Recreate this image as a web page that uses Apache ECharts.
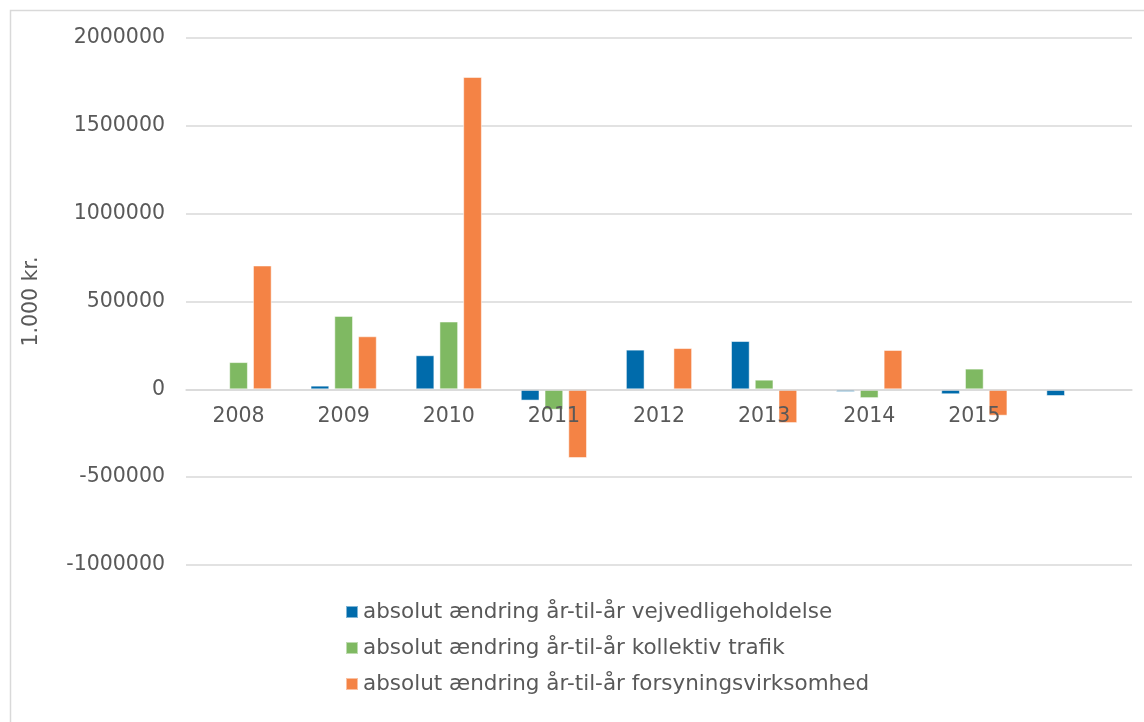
<!DOCTYPE html>
<html>
<head>
<meta charset="utf-8">
<script src="https://cdn.jsdelivr.net/npm/echarts@6/dist/echarts.min.js"></script>
<style>
html,body{margin:0;padding:0;background:#fff;}
#chart{width:1144px;height:722px;}
</style>
</head>
<body>
<div id="chart"></div>
<script>
const categories = ['2008','2009','2010','2011','2012','2013','2014','2015',''];
const seriesNames = [
  'absolut ændring år-til-år vejvedligeholdelse',
  'absolut ændring år-til-år kollektiv trafik',
  'absolut ændring år-til-år forsyningsvirksomhed'
];
const vejvedligeholdelse = [null, 21000, 194000, -64000, 226000, 275000, -15000, -28000, -38000];
const kollektivTrafik = [155000, 418000, 386000, -116000, null, 55000, -50000, 118000, null];
const forsyningsvirksomhed = [705000, 302000, 1778000, -391000, 235000, -192000, 224000, -150000, null];
const yTicks = [-1000000, -500000, 0, 500000, 1000000, 1500000, 2000000];
const colors = ['#006BAB', '#7FB962', '#F48345'];
const fontFamily = '"DejaVu Sans", Verdana, sans-serif';
const textColor = '#595959';

const chart = echarts.init(document.getElementById('chart'), null, {renderer: 'canvas'});
const values = [vejvedligeholdelse, kollektivTrafik, forsyningsvirksomhed];
const gridTop = 38, gridBottom = 157, plotH = 722 - gridTop - gridBottom;
const yMin = yTicks[0], yMax = yTicks[yTicks.length - 1];
// distance from bottom of grid to the zero line, derived from the axis range
const zeroOffset = plotH * (0 - yMin) / (yMax - yMin);
chart.setOption({
  animation: false,
  color: colors,
  textStyle: {fontFamily: fontFamily},
  graphic: [{
    type: 'polyline',
    shape: {points: [[10.5, 760], [10.5, 10.5], [1160, 10.5]]},
    style: {stroke: '#d9d9d9', fill: null, lineWidth: 1.5},
    silent: true
  }],
  grid: {left: 186, right: 12, top: gridTop, bottom: gridBottom, containLabel: false},
  legend: {
    orient: 'vertical',
    left: 340,
    top: 596,
    itemWidth: 12,
    itemHeight: 12,
    itemGap: 14,
    icon: 'rect',
    textStyle: {color: textColor, fontSize: 21.5, fontFamily: fontFamily},
    data: seriesNames
  },
  xAxis: {
    type: 'category',
    data: categories,
    offset: -zeroOffset,
    axisLine: {onZero: false, lineStyle: {color: '#d9d9d9', width: 1.5}},
    axisTick: {show: false},
    axisLabel: {color: textColor, fontSize: 20.5, fontFamily: fontFamily, margin: 17},
    splitLine: {show: false},
    z: 5
  },
  yAxis: {
    type: 'value',
    min: yMin,
    max: yMax,
    interval: 500000,
    name: '1.000 kr.',
    nameLocation: 'middle',
    nameRotate: 90,
    nameGap: 144,
    nameTextStyle: {color: textColor, fontSize: 20.5, fontFamily: fontFamily},
    axisLine: {show: false},
    axisTick: {show: false},
    axisLabel: {color: textColor, fontSize: 20.5, fontFamily: fontFamily, margin: 21, formatter: v => String(v)},
    splitLine: {lineStyle: {color: '#d9d9d9', width: 1.5}}
  },
  series: seriesNames.map((name, i) => ({
    name: name,
    type: 'bar',
    data: values[i],
    barGap: '27%',
    barCategoryGap: '37%',
    itemStyle: {color: colors[i], borderColor: 'rgba(255,255,255,0.5)', borderWidth: 1},
    z: 2
  }))
});
</script>
</body>
</html>
